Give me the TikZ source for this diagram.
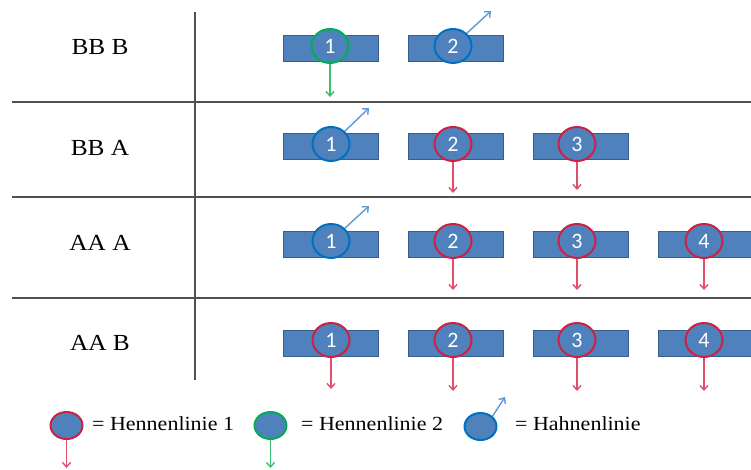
\documentclass[tikz,border=0pt]{standalone}
\usepackage{fontspec}
\setmainfont{Liberation Serif}
\newfontfamily\labelfont[FakeStretch=1.1]{Liberation Serif}
\newfontfamily\numfont{Carlito}
\usetikzlibrary{arrows.meta,shapes.geometric}
\definecolor{barfill}{HTML}{4F81BD}
\definecolor{barline}{HTML}{385D8A}
\definecolor{henred}{HTML}{D02040}
\definecolor{hengreen}{HTML}{00B050}
\definecolor{hahnblue}{HTML}{0070C0}
\definecolor{arrred}{HTML}{E0506E}
\definecolor{arrgreen}{HTML}{3CC070}
\definecolor{arrblue}{HTML}{5B9BD5}
\definecolor{gridline}{HTML}{505050}
\tikzset{
  bar/.style={draw=barline, line width=1pt, fill=barfill, minimum width=95pt, minimum height=26pt, inner sep=0pt},
  marker/.style={ellipse, draw=#1, line width=2pt, fill=barfill, minimum width=37pt, minimum height=34pt, inner sep=0pt, text=white, font=\numfont\fontsize{22}{22}\selectfont},
  legendmark/.style={ellipse, draw=#1, line width=2pt, fill=barfill, minimum width=32pt, minimum height=27pt, inner sep=0pt},
  rowlabel/.style={font=\labelfont\fontsize{23}{23}\selectfont},
  legendtext/.style={font=\labelfont\fontsize{20}{20}\selectfont, anchor=west, inner sep=0pt},
  tip/.style={-{Straight Barb[length=4.5pt,width=8pt]}},
  downred/.style={draw=arrred, line width=1.4pt, tip},
  downgreen/.style={draw=arrgreen, line width=1.4pt, tip},
  upblue/.style={draw=arrblue, line width=1.4pt, tip},
  grid/.style={draw=gridline, line width=1.4pt}
}
\begin{document}
\begin{tikzpicture}[x=1pt,y=-1pt]
\useasboundingbox (0,0) rectangle (751,470);
% table grid
\coordinate (h1l) at (12,102); \coordinate (h1r) at (751,102);
\coordinate (h2l) at (12,197); \coordinate (h2r) at (751,197);
\coordinate (h3l) at (12,298); \coordinate (h3r) at (751,298);
\coordinate (vt) at (195,12); \coordinate (vb) at (195,380);
\draw[grid] (h1l) -- (h1r);
\draw[grid] (h2l) -- (h2r);
\draw[grid] (h3l) -- (h3r);
\draw[grid] (vt) -- (vb);
% row labels
\node[rowlabel] (lab1) at (100,47) {BB B};
\node[rowlabel] (lab2) at (100,148) {BB A};
\node[rowlabel] (lab3) at (100,243) {AA A};
\node[rowlabel] (lab4) at (100,343) {AA B};
% row 1: BB B
\node[bar] (b11) at (330.5,48.5) {};
\node[bar] (b12) at (455.5,48.5) {};
\node[marker=hengreen] (m11) at (330,46) {1};
\node[marker=hahnblue] (m12) at (453,46) {2};
\coordinate (t11) at (330,97);
\coordinate (t12) at (491,11);
\draw[downgreen] (m11.south) -- (t11);
\draw[upblue] (m12.north east) -- (t12);
% row 2: BB A
\node[bar] (b21) at (330.5,147) {};
\node[bar] (b22) at (455.5,147) {};
\node[bar] (b23) at (580.5,147) {};
\node[marker=hahnblue] (m21) at (331,144) {1};
\node[marker=henred] (m22) at (453,144) {2};
\node[marker=henred] (m23) at (577,144) {3};
\coordinate (t21) at (369,108);
\coordinate (t22) at (453,193);
\coordinate (t23) at (577,190);
\draw[upblue] (m21.north east) -- (t21);
\draw[downred] (m22.south) -- (t22);
\draw[downred] (m23.south) -- (t23);
% row 3: AA A
\node[bar] (b31) at (330.5,244) {};
\node[bar] (b32) at (455.5,244) {};
\node[bar] (b33) at (580.5,244) {};
\node[bar] (b34) at (705.5,244) {};
\node[marker=hahnblue] (m31) at (331,241) {1};
\node[marker=henred] (m32) at (453,241) {2};
\node[marker=henred] (m33) at (577,241) {3};
\node[marker=henred] (m34) at (704,241) {4};
\coordinate (t31) at (369,206);
\coordinate (t32) at (453,290);
\coordinate (t33) at (577,290);
\coordinate (t34) at (704,290);
\draw[upblue] (m31.north east) -- (t31);
\draw[downred] (m32.south) -- (t32);
\draw[downred] (m33.south) -- (t33);
\draw[downred] (m34.south) -- (t34);
% row 4: AA B
\node[bar] (b41) at (330.5,343) {};
\node[bar] (b42) at (455.5,343) {};
\node[bar] (b43) at (580.5,343) {};
\node[bar] (b44) at (705.5,343) {};
\node[marker=henred] (m41) at (331,340) {1};
\node[marker=henred] (m42) at (453,340) {2};
\node[marker=henred] (m43) at (577,340) {3};
\node[marker=henred] (m44) at (704,340) {4};
\coordinate (t41) at (331,389);
\coordinate (t42) at (453,391);
\coordinate (t43) at (577,391);
\coordinate (t44) at (704,391);
\draw[downred] (m41.south) -- (t41);
\draw[downred] (m42.south) -- (t42);
\draw[downred] (m43.south) -- (t43);
\draw[downred] (m44.south) -- (t44);
% legend
\node[legendmark=henred] (k1) at (66.5,425.5) {};
\node[legendtext] (kt1) at (92,424) {= Hennenlinie 1};
\node[legendmark=hengreen] (k2) at (270.5,425.5) {};
\node[legendtext] (kt2) at (301,424) {= Hennenlinie 2};
\node[legendmark=hahnblue] (k3) at (480.5,426.5) {};
\node[legendtext] (kt3) at (515,424) {= Hahnenlinie};
\coordinate (kt1a) at (66.5,468);
\coordinate (kt2a) at (270.5,468);
\coordinate (kt3a) at (505,397);
\draw[downred] (k1.south) -- (kt1a);
\draw[downgreen] (k2.south) -- (kt2a);
\draw[upblue] (k3.north east) -- (kt3a);
\end{tikzpicture}
\end{document}
